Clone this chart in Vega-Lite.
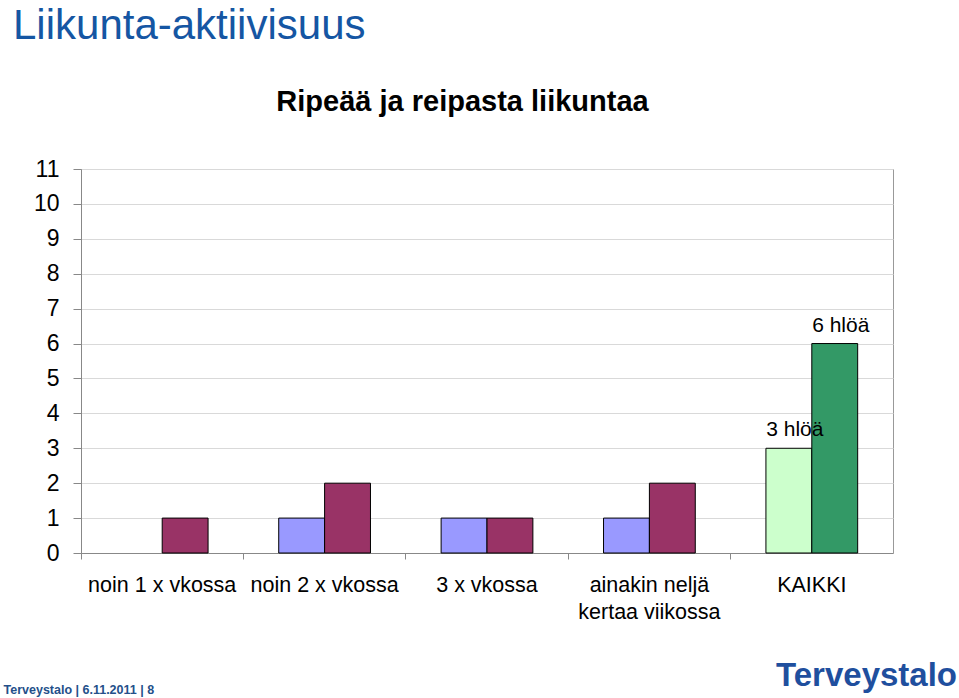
{
  "$schema": "https://vega.github.io/schema/vega-lite/v6.json",
  "width": 812,
  "height": 384,
  "autosize": {"type": "none"},
  "padding": {"left": 81, "top": 169, "right": 66, "bottom": 145},
  "background": "white",
  "title": {
    "text": "Liikunta-aktiivisuus",
    "anchor": "start",
    "frame": "group",
    "dx": -68,
    "offset": 39,
    "fontSize": 42,
    "font": "Liberation Sans",
    "fontWeight": "normal",
    "color": "#1556a3"
  },
  "data": {
    "values": [
      {"kategoria": "noin 1 x vkossa", "sarja": "1", "tyyppi": "osa-1", "arvo": 0, "nimike": null},
      {"kategoria": "noin 1 x vkossa", "sarja": "2", "tyyppi": "osa-2", "arvo": 1, "nimike": null},
      {"kategoria": "noin 2 x vkossa", "sarja": "1", "tyyppi": "osa-1", "arvo": 1, "nimike": null},
      {"kategoria": "noin 2 x vkossa", "sarja": "2", "tyyppi": "osa-2", "arvo": 2, "nimike": null},
      {"kategoria": "3 x vkossa", "sarja": "1", "tyyppi": "osa-1", "arvo": 1, "nimike": null},
      {"kategoria": "3 x vkossa", "sarja": "2", "tyyppi": "osa-2", "arvo": 1, "nimike": null},
      {"kategoria": "ainakin neljä kertaa viikossa", "sarja": "1", "tyyppi": "osa-1", "arvo": 1, "nimike": null},
      {"kategoria": "ainakin neljä kertaa viikossa", "sarja": "2", "tyyppi": "osa-2", "arvo": 2, "nimike": null},
      {"kategoria": "KAIKKI", "sarja": "1", "tyyppi": "kaikki-1", "arvo": 3, "nimike": "3 hlöä"},
      {"kategoria": "KAIKKI", "sarja": "2", "tyyppi": "kaikki-2", "arvo": 6, "nimike": "6 hlöä"}
    ]
  },
  "encoding": {
    "xOffset": {
      "field": "sarja",
      "type": "nominal",
      "scale": {"domain": ["1", "2"], "paddingInner": 0, "paddingOuter": 0.77}
    },
    "y": {
      "field": "arvo",
      "type": "quantitative",
      "scale": {"domain": [0, 11], "nice": false, "zero": true},
      "axis": {
        "values": [0, 1, 2, 3, 4, 5, 6, 7, 8, 9, 10, 11],
        "grid": true,
        "gridColor": "#d9d9d9",
        "gridWidth": 1,
        "domainColor": "#888888",
        "tickColor": "#888888",
        "tickSize": 8,
        "labelFont": "Liberation Sans",
        "labelFontSize": 23,
        "labelColor": "black",
        "labelPadding": 14,
        "title": "Terveystalo  |  6.11.2011  |  8",
        "titleAngle": 0,
        "titleX": -78,
        "titleY": 524,
        "titleAlign": "left",
        "titleBaseline": "alphabetic",
        "titleFont": "Liberation Sans",
        "titleFontSize": 12.5,
        "titleFontWeight": "bold",
        "titleColor": "#24508a"
      }
    }
  },
  "layer": [
    {
      "mark": {"type": "bar", "stroke": "black", "strokeWidth": 1},
      "encoding": {
        "x": {
          "field": "kategoria",
          "type": "nominal",
          "sort": null,
          "scale": {
            "domain": ["noin 1 x vkossa", "noin 2 x vkossa", "3 x vkossa", "ainakin neljä kertaa viikossa", "KAIKKI"],
            "paddingInner": 0,
            "paddingOuter": 0
          },
          "axis": {
            "orient": "bottom",
            "bandPosition": 0,
            "labelAngle": 0,
            "labelFont": "Liberation Sans",
            "labelFontSize": 21.5,
            "labelColor": "black",
            "labelPadding": 15,
            "labelLineHeight": 27,
            "labelLimit": 0,
            "labelExpr": "datum.value == 'ainakin neljä kertaa viikossa' ? ['ainakin neljä', 'kertaa viikossa'] : datum.value",
            "tickSize": 6,
            "tickColor": "#888888",
            "domainColor": "#888888",
            "grid": false,
            "title": "Terveystalo",
            "titleX": 785,
            "titleY": 132,
            "titleAlign": "center",
            "titleBaseline": "alphabetic",
            "titleFont": "Liberation Sans",
            "titleFontSize": 33,
            "titleFontWeight": "bold",
            "titleColor": "#1f4f9e"
          }
        },
        "color": {
          "field": "tyyppi",
          "type": "nominal",
          "scale": {
            "domain": ["osa-1", "osa-2", "kaikki-1", "kaikki-2"],
            "range": ["#9999ff", "#993366", "#ccffcc", "#339966"]
          },
          "legend": null
        },
        "strokeOpacity": {"condition": {"test": "datum.arvo > 0", "value": 1}, "value": 0}
      }
    },
    {
      "transform": [{"filter": "datum.nimike != null"}],
      "mark": {
        "type": "text",
        "font": "Liberation Sans",
        "fontSize": 21,
        "baseline": "alphabetic",
        "align": "center",
        "dy": -12,
        "dx": 6,
        "color": "black"
      },
      "encoding": {
        "x": {
          "field": "kategoria",
          "type": "nominal",
          "sort": null,
          "axis": {
            "orient": "top",
            "labels": false,
            "ticks": false,
            "domain": false,
            "grid": false,
            "title": "Ripeää ja reipasta liikuntaa",
            "titleX": 381,
            "titleY": -59,
            "titleAlign": "center",
            "titleBaseline": "alphabetic",
            "titleFont": "Liberation Sans",
            "titleFontSize": 29,
            "titleFontWeight": "bold",
            "titleColor": "black"
          }
        },
        "text": {"field": "nimike"}
      }
    }
  ],
  "resolve": {"axis": {"x": "independent"}},
  "config": {
    "view": {"stroke": "#999999", "strokeWidth": 1}
  }
}
